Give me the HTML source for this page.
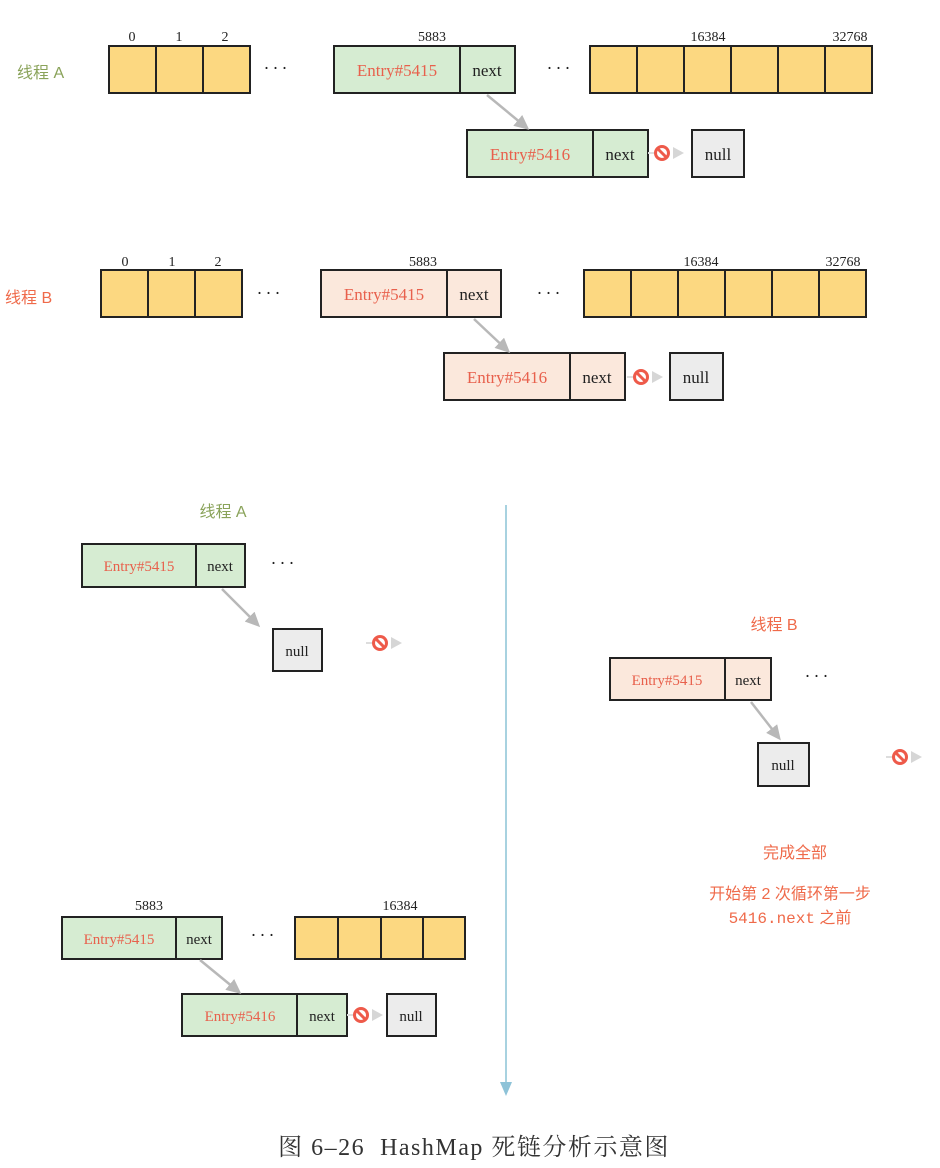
<!DOCTYPE html>
<html><head><meta charset="utf-8"><style>
html,body{margin:0;padding:0;background:#fff;}
svg{display:block;}
.n{font-family:"Liberation Serif",serif;font-size:14px;fill:#222;text-anchor:middle;}
.e{font-family:"Liberation Serif",serif;fill:#e8604c;text-anchor:middle;}
.t{font-family:"Liberation Serif",serif;fill:#222;text-anchor:middle;}
.lab{font-family:"Liberation Sans","Noto Sans CJK SC",sans-serif;font-size:16px;}
</style></head><body>
<svg width="940" height="1168" viewBox="0 0 940 1168" xmlns="http://www.w3.org/2000/svg">
<defs>
<marker id="ga" markerWidth="16" markerHeight="14" refX="12" refY="7" orient="auto" markerUnits="userSpaceOnUse"><path d="M0,0 L15,7 L0,14 z" fill="#b8b8b8"/></marker>
<g id="stop"><line x1="-14" y1="0" x2="0" y2="0" stroke="#ddd" stroke-width="2"/><circle cx="0" cy="0" r="6.5" fill="#fff" stroke="#ee5a4a" stroke-width="3"/><line x1="-4.5" y1="-4.5" x2="4.5" y2="4.5" stroke="#ee5a4a" stroke-width="3"/><path d="M11,-6 L22,0 L11,6 z" fill="#d6d6d6"/></g>
</defs>
<g stroke="#222" stroke-width="2">
<rect x="109" y="46" width="47" height="47" fill="#fcd881"/><rect x="156" y="46" width="47" height="47" fill="#fcd881"/><rect x="203" y="46" width="47" height="47" fill="#fcd881"/>
<rect x="334" y="46" width="126" height="47" fill="#d6ecd2"/><rect x="460" y="46" width="55" height="47" fill="#d6ecd2"/>
<rect x="590" y="46" width="47" height="47" fill="#fcd881"/><rect x="637" y="46" width="47" height="47" fill="#fcd881"/><rect x="684" y="46" width="47" height="47" fill="#fcd881"/><rect x="731" y="46" width="47" height="47" fill="#fcd881"/><rect x="778" y="46" width="47" height="47" fill="#fcd881"/><rect x="825" y="46" width="47" height="47" fill="#fcd881"/>
<rect x="467" y="130" width="126" height="47" fill="#d6ecd2"/><rect x="593" y="130" width="55" height="47" fill="#d6ecd2"/>
<rect x="692" y="130" width="52" height="47" fill="#ececec"/>
<rect x="101" y="270" width="47" height="47" fill="#fcd881"/><rect x="148" y="270" width="47" height="47" fill="#fcd881"/><rect x="195" y="270" width="47" height="47" fill="#fcd881"/>
<rect x="321" y="270" width="126" height="47" fill="#fbe8dc"/><rect x="447" y="270" width="54" height="47" fill="#fbe8dc"/>
<rect x="584" y="270" width="47" height="47" fill="#fcd881"/><rect x="631" y="270" width="47" height="47" fill="#fcd881"/><rect x="678" y="270" width="47" height="47" fill="#fcd881"/><rect x="725" y="270" width="47" height="47" fill="#fcd881"/><rect x="772" y="270" width="47" height="47" fill="#fcd881"/><rect x="819" y="270" width="47" height="47" fill="#fcd881"/>
<rect x="444" y="353" width="126" height="47" fill="#fbe8dc"/><rect x="570" y="353" width="55" height="47" fill="#fbe8dc"/>
<rect x="670" y="353" width="53" height="47" fill="#ececec"/>
<rect x="82" y="544" width="114" height="43" fill="#d6ecd2"/><rect x="196" y="544" width="49" height="43" fill="#d6ecd2"/>
<rect x="273" y="629" width="49" height="42" fill="#ececec"/>
<rect x="610" y="658" width="115" height="42" fill="#fbe8dc"/><rect x="725" y="658" width="46" height="42" fill="#fbe8dc"/>
<rect x="758" y="743" width="51" height="43" fill="#ececec"/>
<rect x="62" y="917" width="114" height="42" fill="#d6ecd2"/><rect x="176" y="917" width="46" height="42" fill="#d6ecd2"/>
<rect x="295" y="917" width="43" height="42" fill="#fcd881"/><rect x="338" y="917" width="43" height="42" fill="#fcd881"/><rect x="381" y="917" width="42" height="42" fill="#fcd881"/><rect x="423" y="917" width="42" height="42" fill="#fcd881"/>
<rect x="182" y="994" width="115" height="42" fill="#d6ecd2"/><rect x="297" y="994" width="50" height="42" fill="#d6ecd2"/>
<rect x="387" y="994" width="49" height="42" fill="#ececec"/>
</g>
<g stroke="#b8b8b8" stroke-width="2.5" marker-end="url(#ga)">
<line x1="487" y1="95" x2="527" y2="128"/>
<line x1="474" y1="319" x2="508" y2="351"/>
<line x1="222" y1="589" x2="258" y2="625"/>
<line x1="751" y1="702" x2="779" y2="738"/>
<line x1="200" y1="960" x2="239" y2="992"/>
</g>
<use href="#stop" x="662" y="153"/>
<use href="#stop" x="641" y="377"/>
<use href="#stop" x="380" y="643"/>
<use href="#stop" x="900" y="757"/>
<use href="#stop" x="361" y="1015"/>
<line x1="506" y1="505" x2="506" y2="1083" stroke="#a8d2e0" stroke-width="2"/>
<path d="M500,1082 L512,1082 L506,1096 z" fill="#8ec3d8"/>
<g class="n">
<text x="132" y="41">0</text><text x="179" y="41">1</text><text x="225" y="41">2</text>
<text x="432" y="41">5883</text><text x="708" y="41">16384</text><text x="850" y="41">32768</text>
<text x="125" y="266">0</text><text x="172" y="266">1</text><text x="218" y="266">2</text>
<text x="423" y="266">5883</text><text x="701" y="266">16384</text><text x="843" y="266">32768</text>
<text x="149" y="910">5883</text><text x="400" y="910">16384</text>
</g>
<g class="e" font-size="17">
<text x="397" y="76">Entry#5415</text><text x="530" y="160">Entry#5416</text>
<text x="384" y="300">Entry#5415</text><text x="507" y="383">Entry#5416</text>
</g>
<g class="e" font-size="15">
<text x="139" y="571">Entry#5415</text><text x="667" y="685">Entry#5415</text>
<text x="119" y="944">Entry#5415</text><text x="240" y="1021">Entry#5416</text>
</g>
<g class="t" font-size="17">
<text x="487" y="76">next</text><text x="620" y="160">next</text><text x="718" y="160">null</text>
<text x="474" y="300">next</text><text x="597" y="383">next</text><text x="696" y="383">null</text>
</g>
<g class="t" font-size="15">
<text x="220" y="571">next</text><text x="297" y="656">null</text>
<text x="748" y="685">next</text><text x="783" y="770">null</text>
<text x="199" y="944">next</text><text x="322" y="1021">next</text><text x="411" y="1021">null</text>
</g>
<g class="t" font-size="18" letter-spacing="3">
<text x="277" y="74">···</text><text x="560" y="74">···</text>
<text x="270" y="299">···</text><text x="550" y="299">···</text>
<text x="284" y="569">···</text><text x="818" y="682">···</text><text x="264" y="941">···</text>
</g>
<text class="lab" x="17" y="78" fill="#8aa35a">线程 A</text>
<text class="lab" x="5" y="303" fill="#ef6a4a">线程 B</text>
<text class="lab" x="223" y="517" fill="#8aa35a" text-anchor="middle">线程 A</text>
<text class="lab" x="774" y="630" fill="#ef6a4a" text-anchor="middle">线程 B</text>
<text class="lab" x="795" y="858" fill="#ef6a4a" text-anchor="middle">完成全部</text>
<text class="lab" x="790" y="899" fill="#ef6a4a" text-anchor="middle">开始第 2 次循环第一步</text>
<text class="lab" x="790" y="923" fill="#ef6a4a" text-anchor="middle"><tspan font-family="Liberation Mono,monospace">5416.next</tspan> 之前</text>
<text x="474" y="1155" font-family="Liberation Serif,'Noto Serif CJK SC',serif" font-size="24" letter-spacing="1.5" fill="#333" text-anchor="middle" xml:space="preserve">图 6–26  HashMap 死链分析示意图</text>
</svg>
</body></html>
